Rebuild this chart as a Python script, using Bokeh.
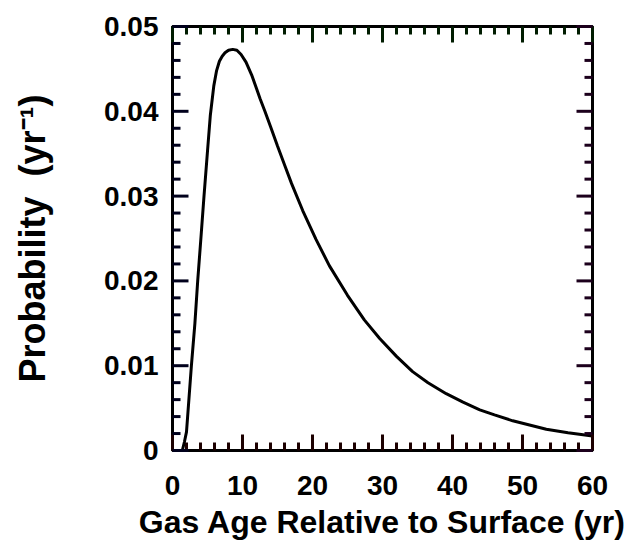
from bokeh.plotting import figure
from bokeh.models import Range1d, FixedTicker, CustomJSTickFormatter
from bokeh.embed import file_html
from bokeh.resources import INLINE

# Data
age = [1.4, 1.7, 2.0, 2.7, 3.2, 3.6, 4.1, 4.5, 5.0, 5.4, 5.9, 6.3, 6.7, 7.1, 7.5, 8.0,
       8.6, 9.2, 9.8, 10.5, 11.3, 12.0, 12.5, 13.2, 14.0, 15.0, 16.0, 17.0, 18.6, 20.5,
       22.4, 25.0, 27.4, 29.6, 32.0, 34.3, 36.5, 39.1, 41.5, 43.9, 46.0, 48.6, 51.0,
       53.4, 56.5, 60.0]
prob = [0.0, 0.0010, 0.0022, 0.0100, 0.0150, 0.0200, 0.0255, 0.0300, 0.0353, 0.0395,
        0.0430, 0.0448, 0.0459, 0.0465, 0.0469, 0.0472, 0.0473, 0.0472, 0.0467, 0.0458,
        0.0443, 0.0427, 0.0415, 0.0400, 0.0382, 0.0359, 0.0337, 0.0315, 0.0283, 0.0249,
        0.0218, 0.0183, 0.0154, 0.0132, 0.0111, 0.0093, 0.0080, 0.0067, 0.0057, 0.0048,
        0.0042, 0.0035, 0.0030, 0.0025, 0.0021, 0.0017]

x_ticks = [0, 10, 20, 30, 40, 50, 60]
x_minor = list(range(0, 61, 2))
y_ticks = [0.0, 0.01, 0.02, 0.03, 0.04, 0.05]
y_minor = [round(i * 0.002, 3) for i in range(26)]

x_label = "Gas Age Relative to Surface (yr)"
y_label = "Probability \u00a0(yr\u207b\u00b9)"

FONT = "Liberation Sans"
X0, X1 = x_ticks[0], x_ticks[-1]
Y0, Y1 = y_ticks[0], y_ticks[-1]

W, H = 637, 547
BL, BR, BT, BB = 172, 45, 26, 97
FW, FH = W - BL - BR, H - BT - BB          # frame size in px
XPX = (X1 - X0) / FW                        # data units per px
YPX = (Y1 - Y0) / FH
MAJ, MIN = 16, 8                            # tick lengths in px

p = figure(width=W, height=H, output_backend="svg", toolbar_location=None,
           x_range=Range1d(X0, X1), y_range=Range1d(Y0, Y1),
           min_border_left=BL, min_border_right=BR,
           min_border_top=BT, min_border_bottom=BB)
p.grid.visible = False
p.outline_line_color = "black"
p.outline_line_width = 3

p.xaxis.ticker = FixedTicker(ticks=x_ticks, minor_ticks=x_minor)
p.yaxis.ticker = FixedTicker(ticks=y_ticks, minor_ticks=y_minor)
p.xaxis.formatter = CustomJSTickFormatter(code="return tick.toFixed(0);")
p.yaxis.formatter = CustomJSTickFormatter(code="return tick == 0 ? '0' : tick.toFixed(2);")
p.xaxis.axis_label = x_label
p.yaxis.axis_label = y_label

for ax in (p.xaxis, p.yaxis):
    ax.axis_line_width = 3
    ax.major_tick_in = 0
    ax.major_tick_out = 0
    ax.minor_tick_in = 0
    ax.minor_tick_out = 0
    ax.major_label_text_font = FONT
    ax.major_label_text_font_style = "bold"
    ax.major_label_text_font_size = "28px"
    ax.major_label_text_color = "black"
    ax.axis_label_text_font = FONT
    ax.axis_label_text_font_style = "bold"
    ax.axis_label_text_color = "black"

p.xaxis.axis_label_text_font_size = "32px"
p.xaxis.major_label_standoff = 25
p.xaxis.axis_label_standoff = 6
p.yaxis.axis_label_text_font_size = "36px"
p.yaxis.major_label_standoff = 14
p.yaxis.axis_label_standoff = 48

# inward tick marks: one renderer per frame edge, majors long, minors short
tx = x_ticks + [v for v in x_minor if v not in x_ticks]
tx_len = [MAJ] * len(x_ticks) + [MIN] * (len(tx) - len(x_ticks))
ty = y_ticks + [v for v in y_minor if v not in y_ticks]
ty_len = [MAJ] * len(y_ticks) + [MIN] * (len(ty) - len(y_ticks))

# bottom
p.segment(x0=tx, y0=[Y0] * len(tx), x1=tx, y1=[Y0 + L * YPX for L in tx_len],
          line_color="#1c0000", line_width=3, level="overlay")
# top
p.segment(x0=tx, y0=[Y1] * len(tx), x1=tx, y1=[Y1 - L * YPX for L in tx_len],
          line_color="#001c00", line_width=3, level="overlay")
# left
p.segment(x0=[X0] * len(ty), y0=ty, x1=[X0 + L * XPX for L in ty_len], y1=ty,
          line_color="#00001c", line_width=3, level="overlay")
# right
p.segment(x0=[X1] * len(ty), y0=ty, x1=[X1 - L * XPX for L in ty_len], y1=ty,
          line_color="#1c001c", line_width=3, level="overlay")

p.line(age, prob, line_color="black", line_width=3)

open("out.html", "w").write(file_html(p, INLINE))
